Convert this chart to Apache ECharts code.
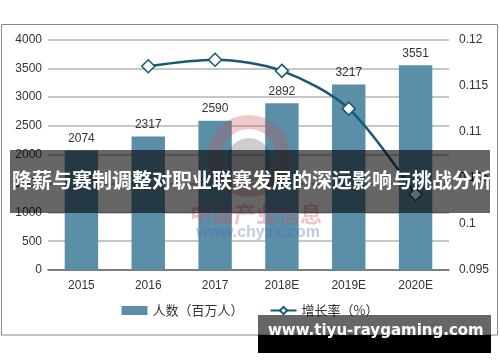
<!DOCTYPE html>
<html><head><meta charset="utf-8">
<script src="https://cdn.jsdelivr.net/npm/echarts@6/dist/echarts.min.js"></script>
<style>html,body{margin:0;padding:0;background:#fff}#c{width:500px;height:362px}</style>
</head><body><div id="c"></div>
<script>
var categories = ['2015','2016','2017','2018E','2019E','2020E'];
var people = [2074, 2317, 2590, 2892, 3217, 3551];
var growth = [null, 0.1171, 0.1178, 0.1166, 0.1125, 0.1032];
var leftTicks = {min: 0, max: 4000, interval: 500};
var rightTicks = {min: 0.095, max: 0.12, interval: 0.005};
var titleText = '降薪与赛制调整对职业联赛发展的深远影响与挑战分析';
var siteText = 'www.tiyu-raygaming.com';

var FONT = '"Liberation Sans", Arial, "Noto Sans CJK SC", sans-serif';
var CJK = '"Noto Sans CJK SC", "Liberation Sans", sans-serif';
var chart = echarts.init(document.getElementById('c'), null, {renderer: 'canvas'});
chart.setOption({
  animation: false,
  backgroundColor: '#fff',
  grid: {left: 48, right: 51, top: 39.5, bottom: 92},
  legend: {
    bottom: 40, left: 'center', itemGap: 26, itemWidth: 26, itemHeight: 9,
    textStyle: {fontFamily: CJK, fontSize: 13, color: '#333'},
    data: [{name: '人数（百万人）', icon: 'rect'}, {name: '增长率（%）'}]
  },
  xAxis: {
    type: 'category', data: categories,
    axisLine: {lineStyle: {color: '#666', width: 1.5}},
    axisTick: {show: false},
    axisLabel: {fontFamily: FONT, fontSize: 12, color: '#333', margin: 10}
  },
  yAxis: [{
    type: 'value', min: leftTicks.min, max: leftTicks.max, interval: leftTicks.interval,
    axisLine: {show: false}, axisTick: {show: false},
    axisLabel: {fontFamily: FONT, fontSize: 12, color: '#333', margin: 6,
      formatter: function (v) { return String(v); }},
    splitLine: {lineStyle: {color: '#b4b4b4', width: 1.5}}
  }, {
    type: 'value', min: rightTicks.min, max: rightTicks.max, interval: rightTicks.interval,
    axisLine: {show: false}, axisTick: {show: false}, splitLine: {show: false},
    axisLabel: {fontFamily: FONT, fontSize: 12, color: '#333', margin: 10,
      formatter: function (v) { return String(parseFloat(v.toFixed(3))); }}
  }],
  series: [{
    name: '人数（百万人）', type: 'bar', data: people, barWidth: '50%',
    itemStyle: {color: '#5b8fa8'},
    label: {show: true, position: 'top', distance: 6, fontFamily: FONT, fontSize: 12, color: '#333'}
  }, {
    name: '增长率（%）', type: 'line', yAxisIndex: 1, data: growth, smooth: 0.3,
    connectNulls: false,
    lineStyle: {color: '#155a73', width: 2.5},
    itemStyle: {color: '#ffffff', borderColor: '#155a73', borderWidth: 1.5},
    symbol: 'diamond', symbolSize: 13, showSymbol: true, z: 5
  }],
  graphic: [
    {type: 'rect', shape: {x: 1.5, y: 24.5, width: 496, height: 310.5}, style: {fill: 'none', stroke: '#888', lineWidth: 1}, z: 1},
    {type: 'circle', shape: {cx: 249, cy: 156, r: 34}, style: {fill: 'none', stroke: 'rgba(200,80,90,0.3)', lineWidth: 14}, z: 50},
    {type: 'circle', shape: {cx: 249, cy: 160, r: 22}, style: {fill: 'rgba(60,60,70,0.25)'}, z: 50},
    {type: 'text', left: 190, top: 203, style: {text: '中国产业信息', font: 'bold 22px ' + CJK, fill: 'rgba(210,80,90,0.35)'}, z: 50},
    {type: 'text', left: 196, top: 225, style: {text: 'www.chyxx.com', font: 'bold 16px ' + FONT, fill: 'rgba(80,100,180,0.35)'}, z: 50},
    {type: 'rect', shape: {x: 10, y: 150, width: 480, height: 63}, style: {fill: 'rgba(0,0,0,0.6)'}, z: 100},
    {type: 'text', left: 12, top: 170, style: {text: titleText, font: 'bold 20px ' + CJK, fill: '#fff'}, z: 101},
    {type: 'rect', shape: {x: 258, y: 315, width: 233, height: 20}, style: {fill: 'rgba(0,0,0,0.6)'}, z: 100},
    {type: 'rect', shape: {x: 258, y: 335, width: 233, height: 18}, style: {fill: '#000'}, z: 100},
    {type: 'text', left: 268, top: 324, style: {text: siteText, font: 'bold 15px "DejaVu Sans", sans-serif', fill: '#fff'}, z: 101}
  ]
});
</script></body></html>
